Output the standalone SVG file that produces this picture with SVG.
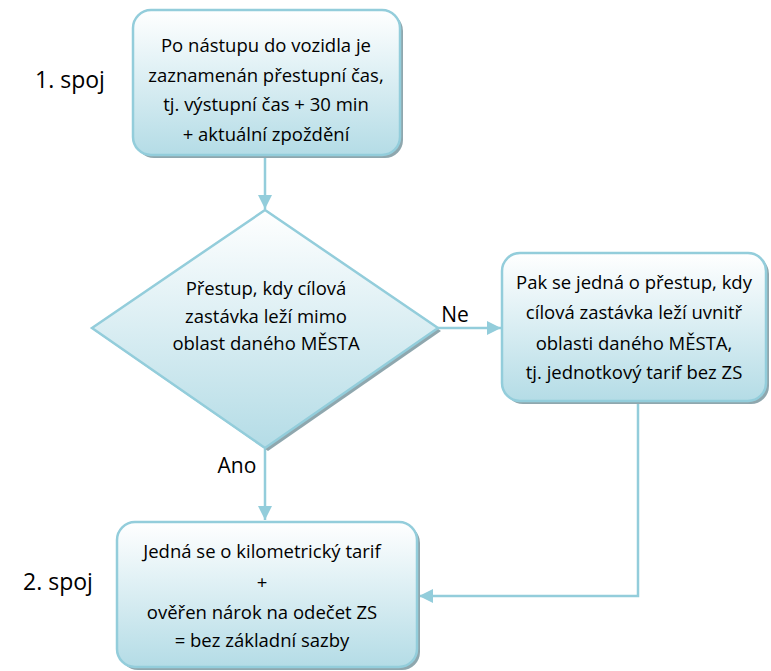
<svg xmlns="http://www.w3.org/2000/svg" width="771" height="671" viewBox="0 0 771 671">
<style>
.shape{fill:url(#g);stroke:#93cddb;stroke-width:2.5}
.shadow{fill:#8fa7ae}
.conn{fill:none;stroke:#93cddb;stroke-width:2.5}
text{font-family:"Open Sans","Liberation Sans",sans-serif;font-size:18.5px;fill:#000;text-anchor:middle}
.lbl{font-size:21px}
.side{font-size:23px;text-anchor:start}
</style>
<defs>
<linearGradient id="g" x1="0" y1="0" x2="0" y2="1">
<stop offset="0" stop-color="#ffffff"/>
<stop offset="1" stop-color="#b4dce6"/>
</linearGradient>
<marker id="ah" markerWidth="14" markerHeight="14" viewBox="0 0 14 14" refX="14" refY="7" orient="auto" markerUnits="userSpaceOnUse">
<path d="M0,0 L14,7 L0,14 Z" fill="#93cddb"/>
</marker>
</defs>
<text class="side" x="35" y="88">1. spoj</text>
<text class="side" x="23" y="590">2. spoj</text>
<g id="connectors">
<path class="conn" d="M265,156 V209" marker-end="url(#ah)"/>
<path class="conn" d="M438,328 H501" marker-end="url(#ah)"/>
<path class="conn" d="M265,449 V520" marker-end="url(#ah)"/>
<path class="conn" d="M638,403 V596 H419" marker-end="url(#ah)"/>
<text class="lbl" x="455" y="322">Ne</text>
<text class="lbl" x="237" y="473">Ano</text>
</g>
<g id="n1">
<rect class="shadow" x="136" y="13" width="267" height="145" rx="18"/>
<rect class="shape" x="133" y="10" width="267" height="145" rx="18"/>
<text x="266" y="52">Po nástupu do vozidla je</text>
<text x="266" y="82">zaznamenán přestupní čas,</text>
<text x="266" y="111">tj. výstupní čas + 30 min</text>
<text x="266" y="141">+ aktuální zpoždění</text>
</g>
<g id="n2">
<path class="shadow" d="M95,331 L268,213 L441,331 L268,451 Z"/>
<path class="shape" d="M92,328 L265,210 L438,328 L265,448 Z"/>
<text x="266" y="295">Přestup, kdy cílová</text>
<text x="266" y="323">zastávka leží mimo</text>
<text x="266" y="350">oblast daného MĚSTA</text>
</g>
<g id="n3">
<rect class="shadow" x="505" y="256" width="264" height="148" rx="18"/>
<rect class="shape" x="502" y="253" width="264" height="148" rx="18"/>
<text x="634" y="289">Pak se jedná o přestup, kdy</text>
<text x="634" y="319">cílová zastávka leží uvnitř</text>
<text x="634" y="350">oblasti daného MĚSTA,</text>
<text x="634" y="379">tj. jednotkový tarif bez ZS</text>
</g>
<g id="n4">
<rect class="shadow" x="120" y="525" width="300" height="145" rx="18"/>
<rect class="shape" x="117" y="522" width="300" height="145" rx="18"/>
<text x="262" y="558">Jedná se o kilometrický tarif</text>
<text x="262" y="589">+</text>
<text x="262" y="619">ověřen nárok na odečet ZS</text>
<text x="262" y="647">= bez základní sazby</text>
</g>
</svg>
